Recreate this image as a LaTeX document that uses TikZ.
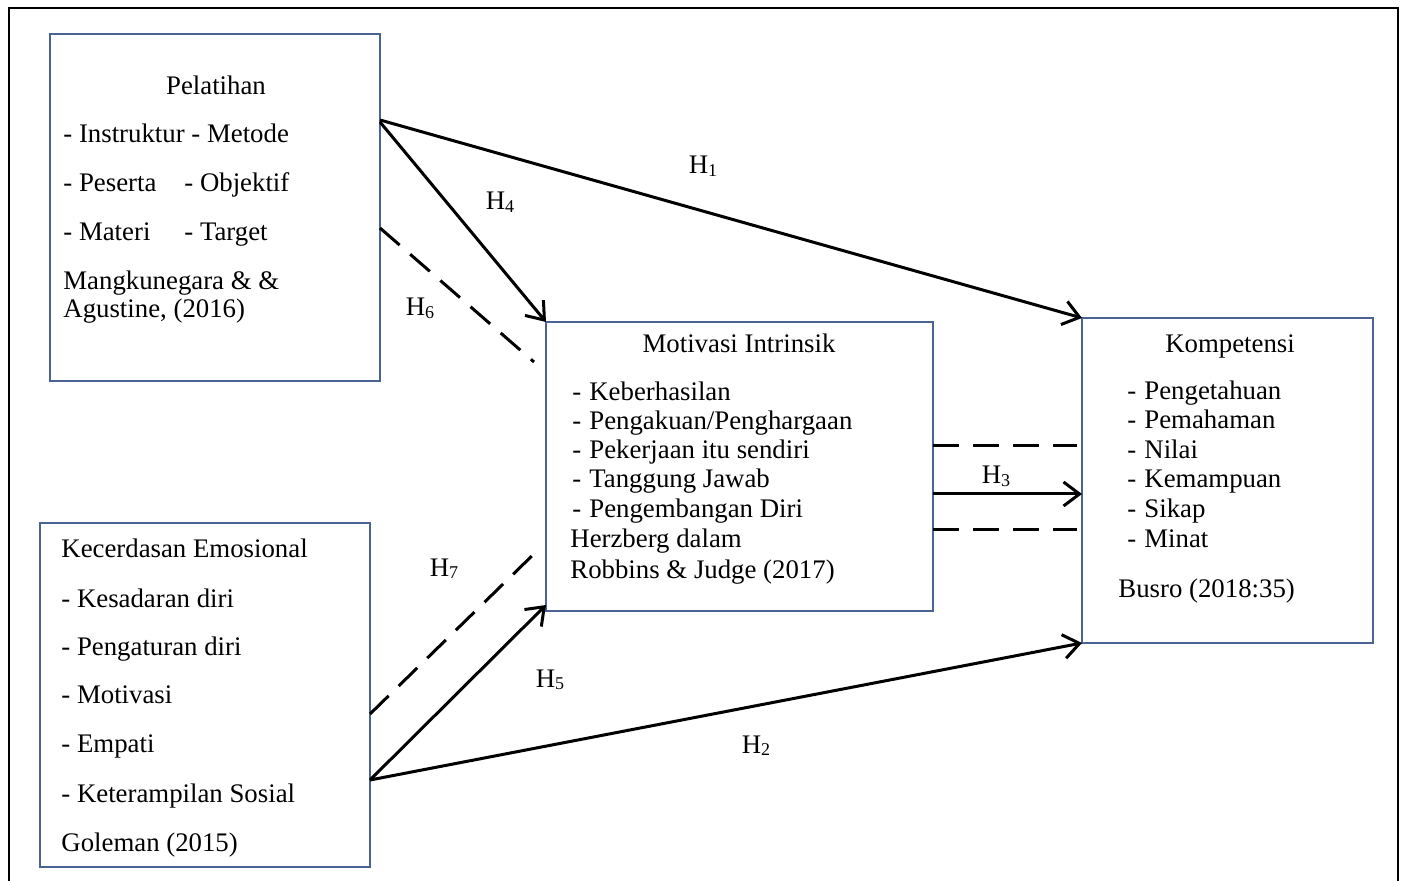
\documentclass[tikz,border=0pt]{standalone}
\usepackage{fontspec}
\setmainfont{Liberation Serif}
\usetikzlibrary{arrows.meta,calc}
\definecolor{boxblue}{HTML}{4A6394}
\newcommand{\itm}[1]{\makebox[8.5pt][l]{-}#1}
\newcommand{\hyp}[1]{H{\fontsize{9pt}{9pt}\selectfont\raisebox{-1.2pt}{#1}}}

\begin{document}
\begin{tikzpicture}[x=0.5pt,y=-0.5pt,
   box/.style={draw=boxblue, line width=1pt, rectangle, anchor=north west, inner sep=0pt, outer sep=0pt},
   txt/.style={anchor=base west, inner sep=0pt, font=\fontsize{13.4pt}{14.5pt}\selectfont},
   ttl/.style={txt, anchor=base},
   arr/.style={line width=1.5pt, -{Straight Barb[length=8pt,width=12pt,line width=1.5pt]}},
   dsh/.style={line width=1.5pt, dash pattern=on 13pt off 7pt}]
   \useasboundingbox (0,0) rectangle (1402,881);
   \draw[line width=1pt] (9,881) -- (9,8) -- (1398,8) -- (1398,881);
   % boxes
   \node[box, minimum width=165pt, minimum height=173.5pt] (pel) at (50,34) {};
   \node[box, minimum width=165pt, minimum height=172pt] (kec) at (40,523) {};
   \node[box, minimum width=193.5pt, minimum height=144.5pt] (mot) at (546,322) {};
   \node[box, minimum width=145.5pt, minimum height=162.5pt] (komp) at (1082,318) {};
   % Pelatihan
   \node[ttl] (pelt) at (216,95) {Pelatihan};
   \node[txt] (pel1) at (63,143) {- Instruktur - Metode};
   \node[txt] (pel2) at (63,192) {\makebox[60.5pt][l]{- Peserta}- Objektif};
   \node[txt] (pel3) at (63,241) {\makebox[60.5pt][l]{- Materi}- Target};
   \node[txt] (pel4) at (63,290) {Mangkunegara \& \&};
   \node[txt] (pel5) at (63,318) {Agustine, (2016)};
   % Kecerdasan Emosional
   \node[txt] (kect) at (61,558) {Kecerdasan Emosional};
   \node[txt] (kec1) at (61,607) {- Kesadaran diri};
   \node[txt] (kec2) at (61,655) {- Pengaturan diri};
   \node[txt] (kec3) at (61,703) {- Motivasi};
   \node[txt] (kec4) at (61,752) {- Empati};
   \node[txt] (kec5) at (61,802) {- Keterampilan Sosial};
   \node[txt] (kec6) at (61,851) {Goleman (2015)};
   % Motivasi Intrinsik
   \node[ttl] (mott) at (739,353) {Motivasi Intrinsik};
   \node[txt] (mot1) at (572,401) {\itm{Keberhasilan}};
   \node[txt] (mot2) at (572,430) {\itm{Pengakuan/Penghargaan}};
   \node[txt] (mot3) at (572,459) {\itm{Pekerjaan itu sendiri}};
   \node[txt] (mot4) at (572,488) {\itm{Tanggung Jawab}};
   \node[txt] (mot5) at (572,517) {\itm{Pengembangan Diri}};
   \node[txt] (mot6) at (570,547) {Herzberg dalam};
   \node[txt] (mot7) at (570,578) {Robbins \& Judge (2017)};
   % Kompetensi
   \node[ttl] (kompt) at (1230,353) {Kompetensi};
   \node[txt] (komp1) at (1127,400) {\itm{Pengetahuan}};
   \node[txt] (komp2) at (1127,429) {\itm{Pemahaman}};
   \node[txt] (komp3) at (1127,459) {\itm{Nilai}};
   \node[txt] (komp4) at (1127,488) {\itm{Kemampuan}};
   \node[txt] (komp5) at (1127,517) {\itm{Sikap}};
   \node[txt] (komp6) at (1127,547) {\itm{Minat}};
   \node[txt] (komp7) at (1118,597) {Busro (2018:35)};
   % connectors
   \draw[arr] ($(pel.north east)+(0,86)$) -- (komp.north west);
   \draw[arr] ($(pel.north east)+(0,88)$) -- (mot.north west);
   \draw[dsh] ($(pel.north east)+(0,194)$) -- ($(mot.north west)+(-12,40)$);
   \draw[dsh] ($(kec.north east)+(0,191)$) -- ($(mot.south west)+(-6,-63)$);
   \draw[arr] ($(kec.south east)+(0,-87)$) -- ($(mot.south west)+(0,-6)$);
   \draw[arr] ($(kec.south east)+(0,-87)$) -- (komp.south west);
   \draw[arr] ($(mot.east)+(0,27.5)$) coordinate (h3a) -- (h3a -| komp.west);
   \draw[dsh] ($(mot.east)+(0,-20.5)$) coordinate (h3b) -- ($(h3b -| komp.west)+(-5,0)$);
   \draw[dsh] ($(mot.east)+(0,63.5)$) coordinate (h3c) -- ($(h3c -| komp.west)+(-5,0)$);
   % labels
   \node[ttl] (h1) at (703,174) {\hyp{1}};
   \node[ttl] (h4) at (500,210) {\hyp{4}};
   \node[ttl] (h6) at (420,316) {\hyp{6}};
   \node[ttl] (h7) at (444,576) {\hyp{7}};
   \node[ttl] (h5) at (550,687) {\hyp{5}};
   \node[ttl] (h2) at (756,753) {\hyp{2}};
   \node[ttl] (h3) at (996,484) {\hyp{3}};
\end{tikzpicture}
\end{document}
